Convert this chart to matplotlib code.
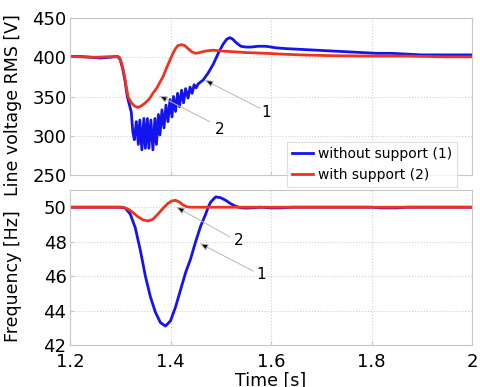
import matplotlib
matplotlib.use('Agg')
import matplotlib.pyplot as plt

# voltage, without support (1)
t_v1 = [1.20, 1.22, 1.24, 1.26, 1.28, 1.295, 1.300, 1.305, 1.310, 1.314, 1.318, 1.322,
        1.325, 1.328, 1.332, 1.336, 1.339, 1.343, 1.347, 1.350, 1.354, 1.357, 1.361,
        1.365, 1.369, 1.372, 1.376, 1.379, 1.383, 1.387, 1.391, 1.395, 1.399, 1.403,
        1.406, 1.410, 1.414, 1.418, 1.422, 1.426, 1.430, 1.435, 1.439, 1.443, 1.447,
        1.451, 1.455, 1.465, 1.475, 1.485, 1.495, 1.505, 1.512, 1.518, 1.524, 1.53,
        1.54, 1.55, 1.56, 1.575, 1.59, 1.61, 1.63, 1.66, 1.69, 1.72, 1.75, 1.78, 1.81,
        1.84, 1.87, 1.90, 1.93, 1.96, 2.0]
v1 = [401, 401, 400, 399, 400, 401, 397, 385, 368, 350, 340, 330,
      305, 295, 318, 289, 320, 282, 322, 284, 322, 284, 320,
      282, 322, 289, 327, 301, 333, 310, 339, 318, 346, 324,
      350, 331, 354, 337, 358, 342, 360, 348, 362, 354, 365,
      361, 366, 371, 380, 391, 405, 417, 423, 425, 423, 419,
      414, 413, 413, 414, 414, 412, 411, 410, 409, 408, 407, 406, 405,
      405, 404, 403, 403, 403, 403]

# voltage, with support (2)
t_v2 = [1.20, 1.25, 1.29, 1.298, 1.303, 1.308, 1.312, 1.316, 1.322, 1.328, 1.335, 1.342,
        1.350, 1.358, 1.366, 1.372, 1.378, 1.385, 1.392, 1.398, 1.405, 1.41, 1.415,
        1.422, 1.428, 1.435, 1.442, 1.45, 1.458, 1.47, 1.485, 1.50, 1.525, 1.55, 1.59,
        1.62, 1.66, 1.72, 1.80, 1.87, 1.95, 2.0]
v2 = [401, 400, 401, 400, 392, 378, 362, 349, 342, 338, 336, 338,
      342, 347, 355, 360, 367, 375, 386, 395, 405, 411, 415,
      416, 415, 411, 407, 405, 406, 408, 409, 408, 407, 406, 405,
      404, 403, 402, 401.5, 401.5, 400.5, 400.5]

# frequency, without support (1)
t_f1 = [1.20, 1.30, 1.31, 1.32, 1.33, 1.34, 1.35, 1.36, 1.37, 1.38, 1.39, 1.40, 1.41,
        1.42, 1.43, 1.44, 1.45, 1.46, 1.465, 1.47, 1.475, 1.48, 1.49, 1.50, 1.51,
        1.52, 1.53, 1.54, 1.55, 1.56, 1.58, 1.60, 1.62, 1.64, 1.80, 1.82, 1.85, 1.87, 2.0]
f1 = [50, 50, 49.95, 49.6, 48.8, 47.5, 46.0, 44.8, 43.9, 43.3, 43.1, 43.4, 44.2,
      45.2, 46.2, 47.0, 48.0, 48.9, 49.25, 49.6, 50.0, 50.3, 50.6, 50.55, 50.4,
      50.2, 50.05, 49.97, 49.95, 49.96, 50.0, 49.96, 49.96, 50.0, 50.0, 49.96, 49.96, 50.0, 50.0]

# frequency, with support (2)
t_f2 = [1.20, 1.305, 1.315, 1.325, 1.335, 1.345, 1.355, 1.365, 1.375, 1.385, 1.395,
        1.403, 1.41, 1.418, 1.425, 1.432, 1.44, 2.0]
f2 = [50, 50, 49.9, 49.7, 49.45, 49.27, 49.2, 49.3, 49.6, 49.93, 50.22,
      50.37, 50.4, 50.3, 50.13, 50.03, 50.0, 50.0]

blue = '#1414f0'
red = '#f0321e'
frame = '#c8c8c8'

fig = plt.figure(figsize=(4.81, 3.87), dpi=100)
ax1 = fig.add_axes([70/481, 1-175/387, 402/481, 157/387])
ax2 = fig.add_axes([70/481, 1-345/387, 402/481, 155/387])

ax1.plot(t_v1, v1, color=blue, lw=2, label='without support (1)')
ax1.plot(t_v2, v2, color=red, lw=2, label='with support (2)')
ax2.plot(t_f1, f1, color=blue, lw=2)
ax2.plot(t_f2, f2, color=red, lw=2)

ax1.set_xlim(1.2, 2.0)
ax1.set_ylim(250, 450)
ax1.set_yticks([250, 300, 350, 400, 450])
ax1.set_xticks([1.2, 1.4, 1.6, 1.8, 2.0])
ax1.set_xticklabels([])

ax2.set_xlim(1.2, 2.0)
ax2.set_ylim(42, 51)
ax2.set_yticks([42, 44, 46, 48, 50])
ax2.set_xticks([1.2, 1.4, 1.6, 1.8, 2.0])
ax2.set_xticklabels(['1.2', '1.4', '1.6', '1.8', '2'])

for ax in (ax1, ax2):
    ax.grid(True, color='#d0d0d0', linestyle=':', lw=0.8)
    for sp in ax.spines.values():
        sp.set_color(frame)
    ax.tick_params(direction='in', length=3, color=frame, labelsize=13)
    ax.tick_params(axis='y', pad=2.5)
    ax.tick_params(axis='x', pad=6)

ax1.set_ylabel('Line voltage RMS [V]', fontsize=12.5)
ax1.yaxis.set_label_coords(-0.119, 0.446)
ax2.set_ylabel('Frequency [Hz]', fontsize=12.5)
ax2.yaxis.set_label_coords(-0.119, 0.445)
ax2.set_xlabel('Time [s]', fontsize=12.5, labelpad=0.5)

arrow = dict(arrowstyle='-|>,head_length=0.5,head_width=0.2', ec='0.72', fc='k', lw=0.7,
             shrinkA=0, shrinkB=0)
ax1.annotate('', xy=(1.468, 371), xytext=(1.578, 335), arrowprops=arrow)
ax1.text(1.590, 329, '1', fontsize=11, ha='center', va='center')
ax1.annotate('', xy=(1.377, 351), xytext=(1.478, 318), arrowprops=arrow)
ax1.text(1.498, 308.5, '2', fontsize=11, ha='center', va='center')

ax2.annotate('', xy=(1.411, 50.02), xytext=(1.518, 48.28), arrowprops=arrow)
ax2.text(1.535, 48.09, '2', fontsize=11, ha='center', va='center')
ax2.annotate('', xy=(1.458, 47.9), xytext=(1.565, 46.29), arrowprops=arrow)
ax2.text(1.581, 46.1, '1', fontsize=11, ha='center', va='center')

h, l = ax1.get_legend_handles_labels()
leg = fig.legend(h, l, loc='upper left', bbox_to_anchor=(287/481, 1-142/387),
                 fontsize=10, frameon=True, fancybox=False, handlelength=1.5,
                 handletextpad=0.35, labelspacing=0.5, borderpad=0.35,
                 borderaxespad=0)
leg.get_frame().set_edgecolor('#d8d8d8')
leg.get_frame().set_linewidth(0.8)

fig.savefig('out.png', dpi=100)
